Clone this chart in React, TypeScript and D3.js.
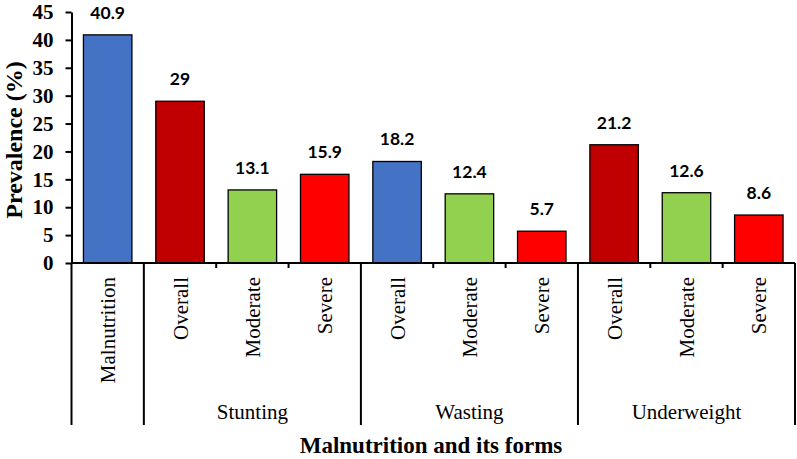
import React, { useEffect, useRef } from "react";
import * as d3 from "d3";

const categories = ["Malnutrition", "Overall", "Moderate", "Severe", "Overall", "Moderate", "Severe", "Overall", "Moderate", "Severe"];
const values = [40.9, 29, 13.1, 15.9, 18.2, 12.4, 5.7, 21.2, 12.6, 8.6];
const colors = ["#4472C4", "#C00000", "#92D050", "#FF0000", "#4472C4", "#92D050", "#FF0000", "#C00000", "#92D050", "#FF0000"];
const groups = [
  { name: "", start: 0, end: 1 },
  { name: "Stunting", start: 1, end: 4 },
  { name: "Wasting", start: 4, end: 7 },
  { name: "Underweight", start: 7, end: 10 },
];
const yTicks = [0, 5, 10, 15, 20, 25, 30, 35, 40, 45];

const App: React.FC = () => {
  const ref = useRef<SVGSVGElement>(null);

  useEffect(() => {
    const svg = d3.select(ref.current);
    svg.selectAll("*").remove();

    const width = 797;
    const height = 459;
    const left = 71.5;
    const right = 795;
    const y0 = 263;
    const yTop = 12;
    const serif = "'Liberation Serif', 'Times New Roman', serif";

    const idx = categories.map((_, i) => i);
    const x = d3.scaleBand<number>().domain(idx).range([left, right]).paddingInner(0.33).paddingOuter(0.165);
    const y = d3.scaleLinear().domain([0, 45]).range([y0, yTop]);
    const step = x.step();
    const edge = (i: number) => left + i * step;

    svg.attr("width", width).attr("height", height);

    // bars
    svg
      .append("g")
      .selectAll("rect")
      .data(values)
      .join("rect")
      .attr("x", (_, i) => x(i)!)
      .attr("y", (d) => y(d))
      .attr("width", x.bandwidth())
      .attr("height", (d) => y(0) - y(d))
      .attr("fill", (_, i) => colors[i])
      .attr("stroke", "#000")
      .attr("stroke-width", 1.3);

    // value labels
    svg
      .append("g")
      .selectAll("text")
      .data(values)
      .join("text")
      .attr("x", (_, i) => x(i)! + x.bandwidth() / 2)
      .attr("y", (d) => y(d) - 16)
      .attr("text-anchor", "middle")
      .attr("font-family", "Lato, 'Open Sans', sans-serif")
      .attr("font-weight", "bold")
      .attr("font-size", 17.5)
      .text((d) => String(d));

    // y axis
    const yAxis = d3.axisLeft(y).tickValues(yTicks).tickSize(6).tickSizeOuter(0);
    const gy = svg.append("g").attr("transform", `translate(${left},0)`).call(yAxis);
    gy.select(".domain").attr("stroke-width", 2);
    gy.selectAll(".tick line").attr("stroke-width", 2);
    gy.selectAll(".tick text")
      .attr("font-family", serif)
      .attr("font-weight", "bold")
      .attr("font-size", 21)
      .attr("x", -18)
      .attr("fill", "#000");

    // x axis line
    svg.append("line").attr("x1", left).attr("x2", right).attr("y1", y0).attr("y2", y0).attr("stroke", "#000").attr("stroke-width", 2);

    // ticks at category boundaries, long at group edges
    const bounds = d3.range(0, categories.length + 1);
    const groupEdges = new Set(groups.flatMap((g) => [g.start, g.end]));
    svg
      .append("g")
      .selectAll("line")
      .data(bounds)
      .join("line")
      .attr("x1", (i) => edge(i))
      .attr("x2", (i) => edge(i))
      .attr("y1", y0)
      .attr("y2", (i) => (groupEdges.has(i) ? 425 : 268))
      .attr("stroke", "#000")
      .attr("stroke-width", 2);

    // category labels
    svg
      .append("g")
      .selectAll("text")
      .data(categories)
      .join("text")
      .attr("transform", (_, i) => `translate(${x(i)! + x.bandwidth() / 2 + 7.5},277) rotate(-90)`)
      .attr("text-anchor", "end")
      .attr("font-family", serif)
      .attr("font-size", 21)
      .text((d) => d);

    // group labels
    svg
      .append("g")
      .selectAll("text")
      .data(groups.filter((g) => g.name))
      .join("text")
      .attr("x", (g) => (edge(g.start) + edge(g.end)) / 2)
      .attr("y", 419)
      .attr("text-anchor", "middle")
      .attr("font-family", serif)
      .attr("font-size", 21)
      .text((g) => g.name);

    // axis titles
    svg
      .append("text")
      .attr("x", 431)
      .attr("y", 453)
      .attr("text-anchor", "middle")
      .attr("font-family", serif)
      .attr("font-weight", "bold")
      .attr("font-size", 23)
      .text("Malnutrition and its forms");

    svg
      .append("text")
      .attr("transform", `translate(21.5,140) rotate(-90)`)
      .attr("text-anchor", "middle")
      .attr("font-family", serif)
      .attr("font-weight", "bold")
      .attr("font-size", 24)
      .text("Prevalence (%)");
  }, []);

  return <svg ref={ref} style={{ position: "absolute", left: 0, top: 0, background: "#fff" }} width={797} height={459}></svg>;
};

export default App;
